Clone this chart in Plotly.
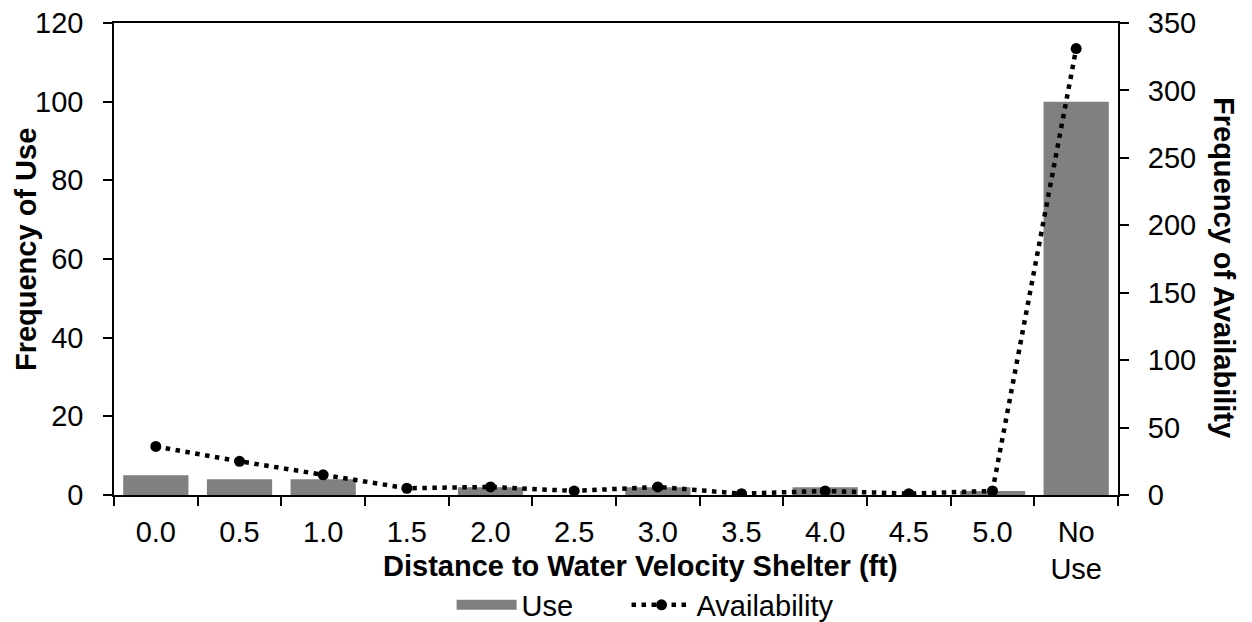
import plotly.graph_objects as go

categories = ["0.0", "0.5", "1.0", "1.5", "2.0", "2.5", "3.0", "3.5", "4.0", "4.5", "5.0", "No<br>Use"]
use_values = [5, 4, 4, 0, 2, 0, 2, 0, 2, 0, 1, 100]
availability_values = [36, 25, 15, 5, 6, 3, 6, 1, 3, 1, 3, 331]

FONT = "Liberation Sans, Arial, sans-serif"
FS = 29
GREY = "#808080"
NB = "\u00a0"

fig = go.Figure()
fig.add_trace(go.Bar(
    x=categories, y=use_values, name="Use",
    marker=dict(color=GREY, line=dict(width=0)),
    yaxis="y", showlegend=False, legendgroup="use",
))
# legend proxy for the bar series (wide grey patch like the original)
fig.add_trace(go.Scatter(
    x=[None], y=[None], name="Use" + NB * 6, mode="lines",
    line=dict(color=GREY, width=17), legendgroup="use", showlegend=True,
))
fig.add_trace(go.Scatter(
    x=categories, y=availability_values, name="Availability",
    mode="lines+markers",
    line=dict(color="black", width=4.5, dash="4.5px,5.5px"),
    marker=dict(color="black", size=11),
    yaxis="y2",
))

fig.update_layout(
    width=1244, height=614,
    margin=dict(l=106, r=134, t=15, b=127, autoexpand=False),
    paper_bgcolor="white", plot_bgcolor="white",
    font=dict(family=FONT, size=FS, color="black"),
    bargap=0.22,
    showlegend=True,
    legend=dict(orientation="h", x=0.529, xanchor="center", y=-0.233, yanchor="middle",
                font=dict(size=FS), traceorder="normal", bgcolor="rgba(0,0,0,0)",
                itemwidth=60),
    xaxis=dict(
        type="category", range=[-0.5, len(categories) - 0.5],
        tickson="boundaries", ticks="outside", ticklen=9,
        tickwidth=1.5, tickcolor="black", automargin=False, ticklabelstandoff=10,
        ticklabeloverflow="allow",
        showline=True, linecolor="black", linewidth=1.5, mirror=True,
        showgrid=False, tickfont=dict(size=FS),
    ),
    yaxis=dict(
        range=[0, 120], dtick=20, ticks="outside", ticklen=9, tickwidth=1.5,
        tickcolor="black", showline=True, linecolor="black", linewidth=1.5,
        showgrid=False, zeroline=False, tickfont=dict(size=FS), automargin=False,
        ticklabelstandoff=14, ticklabeloverflow="allow",
    ),
    yaxis2=dict(
        range=[0, 350], dtick=50, overlaying="y", side="right",
        ticks="outside", ticklen=9, tickwidth=1.5, tickcolor="black",
        showline=True, linecolor="black", linewidth=2,
        showgrid=False, zeroline=False, tickfont=dict(size=FS), automargin=False,
        ticklabelstandoff=13, ticklabeloverflow="allow",
    ),
    annotations=[
        dict(text="<b>Frequency of Use</b>", xref="paper", yref="paper",
             x=-0.0876, y=0.519, textangle=-90, showarrow=False,
             xanchor="center", yanchor="middle", font=dict(size=FS)),
        dict(text="<b>Frequency of Availability</b>", xref="paper", yref="paper",
             x=1.1056, y=0.483, textangle=90, showarrow=False,
             xanchor="center", yanchor="middle", font=dict(size=FS)),
        dict(text="<b>Distance to Water Velocity Shelter (ft)</b>", xref="paper", yref="paper",
             x=0.524, y=-0.150, showarrow=False,
             xanchor="center", yanchor="middle", font=dict(size=FS)),
    ],
)

fig.write_html("out.html")
